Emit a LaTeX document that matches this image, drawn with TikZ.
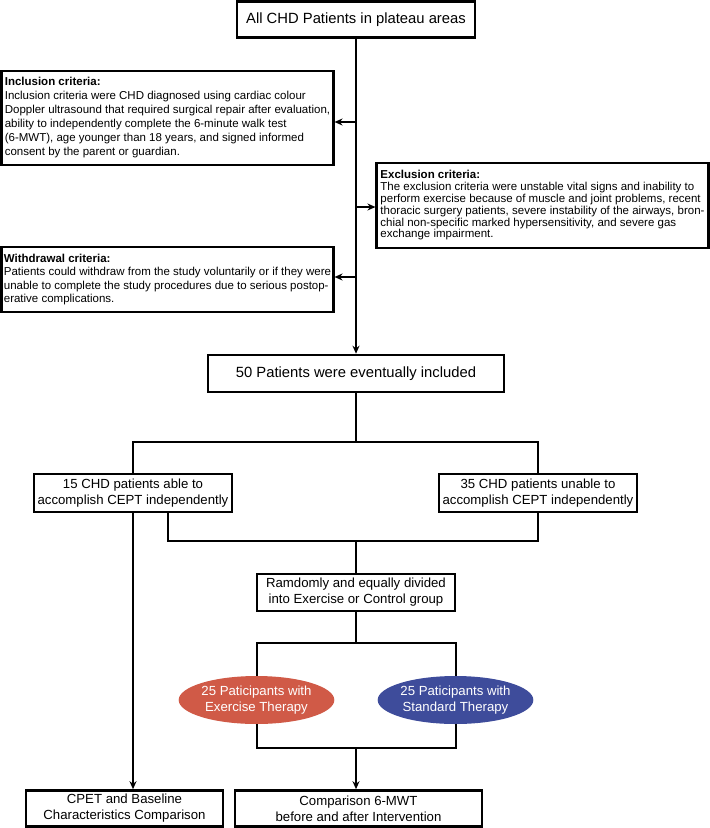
\documentclass[tikz,border=0pt]{standalone}
\usepackage{fontspec}
\setmainfont{Liberation Sans}
\usetikzlibrary{arrows.meta,shapes.geometric}
\definecolor{exred}{HTML}{D05A47}
\definecolor{stblue}{HTML}{3E4C9B}
\begin{document}
\begin{tikzpicture}[x=1pt,y=-1pt,
  box/.style={draw, line width=2.6pt, inner sep=0pt, align=center, font=\fontsize{13.2}{16}\selectfont},
  bigbox/.style={box, font=\fontsize{14.8}{17}\selectfont},
  crit/.style={draw, line width=2.1pt, inner sep=0pt, align=left},
  conn/.style={line width=2pt},
  arr/.style={conn, -{Stealth[length=8pt,width=7pt]}},
  oval/.style={ellipse, inner sep=0pt, minimum width=147pt, minimum height=48pt, text=white, align=center, font=\fontsize{13.2}{16}\selectfont}]
\useasboundingbox (0,0) rectangle (710,828);

\node[bigbox, minimum width=238pt, minimum height=36.5pt] (all) at (356,19.5) {All CHD Patients in plateau areas};

\node[crit, minimum width=332pt, minimum height=94pt, font=\fontsize{11.5}{14}\selectfont] (inc) at (167.5,118) {\textbf{Inclusion criteria:}\\
Inclusion criteria were CHD diagnosed using cardiac colour\\
Doppler ultrasound that required surgical repair after evaluation,\\
ability to independently complete the 6-minute walk test\\
(6-MWT), age younger than 18 years, and signed informed\\
consent by the parent or guardian.};

\node[crit, minimum width=332pt, minimum height=85pt, font=\fontsize{11.5}{11.8}\selectfont] (exc) at (542.5,205.5) {\textbf{Exclusion criteria:}\\
The exclusion criteria were unstable vital signs and inability to\\
perform exercise because of muscle and joint problems, recent\\
thoracic surgery patients, severe instability of the airways, bron-\\
chial non-specific marked hypersensitivity, and severe gas\\
exchange impairment.};

\node[crit, minimum width=332pt, minimum height=65pt, font=\fontsize{11.5}{13.5}\selectfont] (wd) at (167.5,279.5) {\textbf{Withdrawal criteria:}\\
Patients could withdraw from the study voluntarily or if they were\\
unable to complete the study procedures due to serious postop-\\
erative complications.};

\node[bigbox, minimum width=296pt, minimum height=37pt] (p50) at (356,373.5) {50 Patients were eventually included};

\node[box, minimum width=198pt, minimum height=38pt] (b15) at (133,493) {15 CHD patients able to\\accomplish CEPT independently};
\node[box, minimum width=198pt, minimum height=38pt] (b35) at (538,493) {35 CHD patients unable to\\accomplish CEPT independently};

\node[box, minimum width=198pt, minimum height=37pt] (rand) at (356,592.5) {Ramdomly and equally divided\\into Exercise or Control group};

\node[box, minimum width=197pt, minimum height=36pt] (cpet) at (124.5,808.5) {CPET and Baseline\\Characteristics Comparison};
\node[box, minimum width=247pt, minimum height=36pt] (comp) at (358.5,808.5) {Comparison 6-MWT\\before and after Intervention};

\node[oval, fill=exred] (exer) at (256.5,700) {25 Paticipants with\\Exercise Therapy};
\node[oval, fill=stblue] (std) at (455.5,700) {25 Paticipants with\\Standard Therapy};

% trunk and criteria branches
\draw[arr] (all.south) -- (p50.north);
\coordinate (j1) at (356,122);
\coordinate (j2) at (356,207);
\coordinate (j3) at (356,277);
\draw[arr] (j1) -- (j1 -| inc.east);
\draw[arr] (j2) -- (j2 -| exc.west);
\draw[arr] (j3) -- (j3 -| wd.east);

% split
\coordinate (s1) at (356,442);
\draw[conn] (p50.south) -- (s1);
\draw[conn] (s1) -| (b15.north);
\draw[conn] (s1) -| (b35.north);

% merge
\coordinate (s2) at (356,541);
\draw[conn] ([xshift=35pt]b15.south) |- (s2);
\draw[conn] (b35.south) |- (s2);
\draw[conn] (s2) -- (rand.north);

% groups
\coordinate (rt) at (356,643);
\coordinate (rb) at (356,748);
\draw[conn] (rand.south) -- (rt);
\draw[conn] (rt) -| (exer.north);
\draw[conn] (rt) -| (std.north);
\draw[conn] (exer.south) |- (rb);
\draw[conn] (std.south) |- (rb);
\draw[arr] (rb) -- (rb |- comp.north);

\draw[arr] (b15.south) -- (b15.south |- cpet.north);
\end{tikzpicture}
\end{document}
